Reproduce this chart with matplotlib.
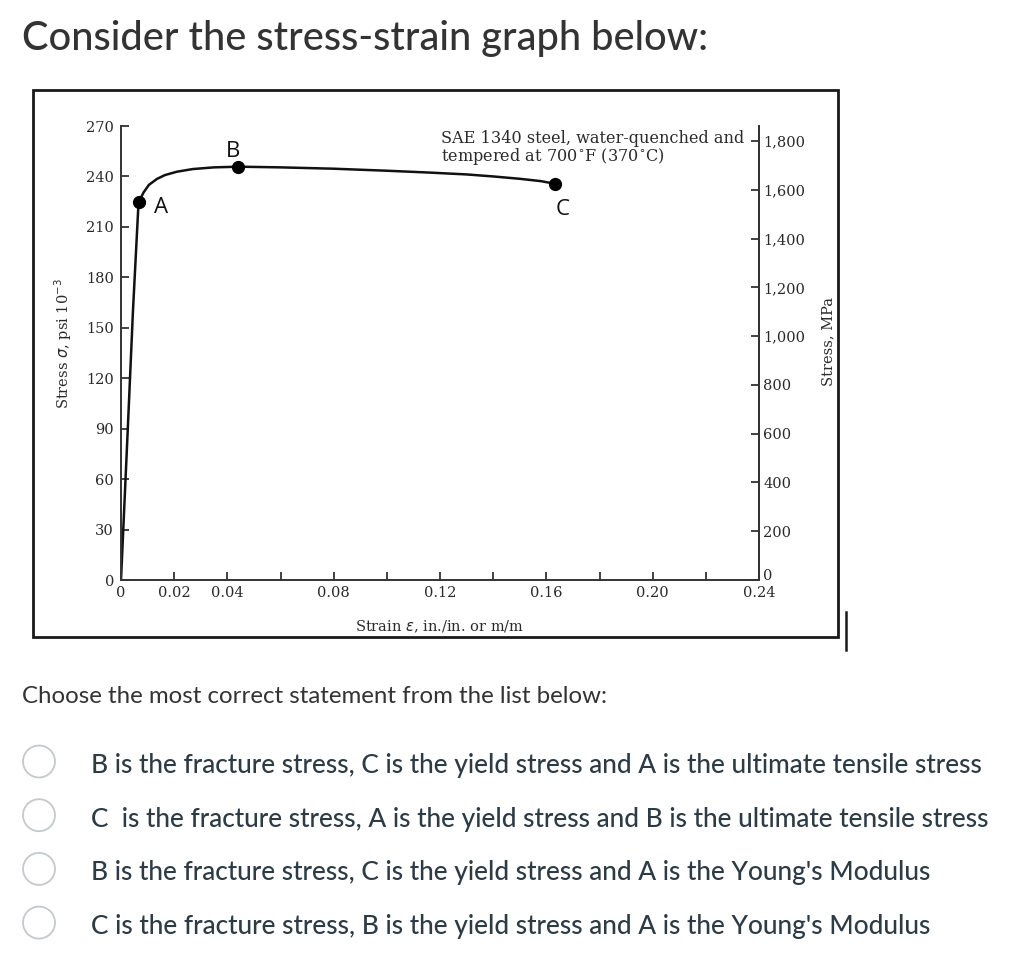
import numpy as np
import matplotlib
matplotlib.use("Agg")
import matplotlib.pyplot as plt
from matplotlib.patches import Rectangle, Ellipse
from matplotlib.lines import Line2D

# ── data ───────────────────────────────────────────────────────
strain = [0.0, 0.0025, 0.0045, 0.0066, 0.0085, 0.0105, 0.0135, 0.0165, 0.021,
          0.027, 0.035, 0.0442, 0.060, 0.080, 0.100, 0.116, 0.130, 0.140,
          0.150, 0.158, 0.1634]
stress_ksi = [0.0, 88.0, 160.0, 224.6, 230.5, 235.0, 238.5, 240.8, 242.8,
              244.4, 245.4, 245.8, 245.4, 244.6, 243.4, 242.3, 241.2, 240.0,
              238.6, 237.2, 235.6]

point_names = ["A", "B", "C"]
point_strain = [0.0066, 0.0442, 0.1634]
point_stress = [224.6, 245.8, 235.6]

x_ticks = [0.00, 0.02, 0.04, 0.06, 0.08, 0.10, 0.12, 0.14, 0.16, 0.18, 0.20, 0.22, 0.24]
x_tick_labels = ["0", "0.02", "0.04", "", "0.08", "", "0.12", "", "0.16", "", "0.20", "", "0.24"]
ksi_ticks = [0, 30, 60, 90, 120, 150, 180, 210, 240, 270]
mpa_ticks = [0, 200, 400, 600, 800, 1000, 1200, 1400, 1600, 1800]
mpa_tick_labels = ["0", "200", "400", "600", "800", "1,000", "1,200", "1,400", "1,600", "1,800"]

MPA_PER_KSI = 6.895

title = "Consider the stress-strain graph below:"
question = "Choose the most correct statement from the list below:"
options = [
    "B is the fracture stress, C is the yield stress and A is the ultimate tensile stress",
    "C  is the fracture stress, A is the yield stress and B is the ultimate tensile stress",
    "B is the fracture stress, C is the yield stress and A is the Young's Modulus",
    "C is the fracture stress, B is the yield stress and A is the Young's Modulus",
]

# ── layout (pixels of the 1016 x 958 canvas) ───────────────────
W, H = 1016, 958


def fx(px):
    return px / W


def fy(py):
    return 1 - py / H


SERIF = "DejaVu Serif"
INK = "#2a2a2a"
TICK_FS = 10.5

fig = plt.figure(figsize=(W / 100, H / 100), dpi=100)
fig.patch.set_facecolor("white")

# page text
fig.text(fx(22), fy(50), title, family="Lato", weight="medium", fontsize=28.6,
         color="#333333", va="baseline", ha="left")
fig.text(fx(22), fy(703), question, family="Lato", fontsize=17.3, color="#333333",
         va="baseline", ha="left")
for i, opt in enumerate(options):
    base = 773 + i * 53.7
    fig.text(fx(91), fy(base), opt, family="Lato", weight="medium", fontsize=18.95,
             color="#2d3b45", va="baseline", ha="left")
    fig.add_artist(Ellipse((fx(39), fy(base - 11.5)), 32 / W, 32 / H,
                           facecolor="white", edgecolor="#c4c9cc", lw=1.3))

# scanned figure frame
fig.add_artist(Rectangle((fx(33), fy(637)), fx(838) - fx(33), fy(90) - fy(637),
                         facecolor="none", edgecolor="#1a1a1a", lw=2))
fig.add_artist(Line2D([fx(846), fx(846)], [fy(612), fy(650)], color="#1a1a1a", lw=1.8))

# ── the chart ──────────────────────────────────────────────────
ax = fig.add_axes([fx(121), fy(580), fx(759) - fx(121), fy(126) - fy(580)])
ax.set_xlim(0, 0.24)
ax.set_ylim(0, 270)

ax.plot(strain, stress_ksi, color="#111111", lw=1.8, solid_capstyle="round")
ax.plot(point_strain, point_stress, "o", color="black", ms=8.5)

label_offsets = {"A": (16, -3.5), "B": (-4, 11), "C": (5, -18.5)}
for name, sx, sy in zip(point_names, point_strain, point_stress):
    dx, dy = label_offsets[name]
    ax.annotate(name, (sx, sy), xytext=(dx, dy), textcoords="offset points",
                ha="center", va="center", family="Open Sans", fontsize=16, color="#111111")

ax.text(0.1205, 256.5, "SAE 1340 steel, water-quenched and\ntempered at 700$^{\\circ}$F (370$^{\\circ}$C)",
        family=SERIF, fontsize=11.6, color=INK, ha="left", va="center", linespacing=0.9)

ax.spines["top"].set_visible(False)
for side in ("left", "bottom", "right"):
    ax.spines[side].set_color("#333333")
    ax.spines[side].set_linewidth(1.4)

ax.set_xticks(x_ticks)
ax.set_xticklabels(x_tick_labels)
ax.set_yticks(ksi_ticks)
ax.tick_params(axis="both", direction="in", length=6, width=1.3, colors="#333333",
               labelcolor=INK, labelsize=TICK_FS, pad=4)
ax.tick_params(axis="y", pad=5)
for lab in ax.get_xticklabels() + ax.get_yticklabels():
    lab.set_family(SERIF)

ax.set_xlabel("Strain $\\epsilon$, in./in. or m/m", family=SERIF, fontsize=TICK_FS,
              color=INK)
ax.xaxis.label.set_verticalalignment("center")
ax.xaxis.set_label_coords(0.5, -0.102)
ax.set_ylabel("Stress $\\sigma$, psi 10$^{-3}$", family=SERIF, fontsize=TICK_FS,
              color=INK)
ax.yaxis.set_label_coords(-0.073, 0.52)

# MPa scale on the right
ax2 = ax.twinx()
ax2.set_ylim(0, 270 * MPA_PER_KSI)
ax2.set_yticks(mpa_ticks)
ax2.set_yticklabels(mpa_tick_labels)
for side in ("top", "left", "bottom"):
    ax2.spines[side].set_visible(False)
ax2.spines["right"].set_color("#333333")
ax2.spines["right"].set_linewidth(1.4)
ax2.tick_params(axis="y", direction="in", length=6, width=1.3, colors="#333333",
                labelcolor=INK, labelsize=TICK_FS, pad=3)
for lab in ax2.get_yticklabels():
    lab.set_family(SERIF)
# the MPa zero sits just above the 0.24 strain label
ax2.get_yticklabels()[0].set_verticalalignment("baseline")
ax2.set_ylabel("Stress, MPa", family=SERIF, fontsize=TICK_FS, color=INK)
ax2.yaxis.set_label_coords(1.097, 0.525)

fig.savefig("out.png", dpi=100, facecolor="white")
